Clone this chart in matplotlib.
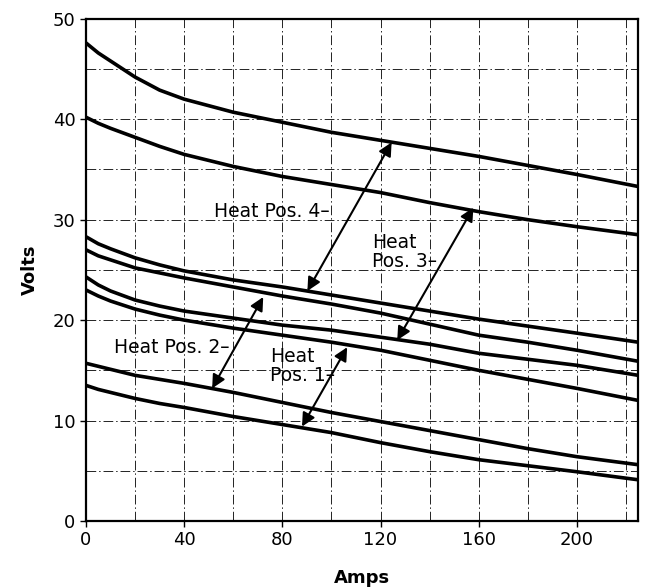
import matplotlib
matplotlib.use("Agg")
from matplotlib import pyplot as plt

amps = [0, 5, 10, 20, 30, 40, 60, 80, 100, 120, 140, 160, 180, 200, 225]

# upper pair (Heat Pos. 4)
v1 = [47.6, 46.6, 45.8, 44.2, 42.9, 42.0, 40.7, 39.7, 38.7, 37.9, 37.1, 36.3, 35.4, 34.5, 33.3]
v2 = [40.2, 39.6, 39.1, 38.2, 37.3, 36.5, 35.3, 34.3, 33.5, 32.7, 31.7, 30.8, 30.0, 29.3, 28.5]
# middle cluster (Heat Pos. 3 / 2)
v3 = [28.3, 27.6, 27.1, 26.2, 25.5, 24.9, 24.0, 23.3, 22.5, 21.7, 20.9, 20.1, 19.4, 18.7, 17.8]
v4 = [27.0, 26.4, 26.0, 25.2, 24.7, 24.2, 23.3, 22.4, 21.6, 20.7, 19.6, 18.5, 17.8, 17.0, 15.9]
v5 = [24.3, 23.5, 22.9, 22.0, 21.4, 20.9, 20.2, 19.5, 19.0, 18.3, 17.6, 16.7, 16.1, 15.5, 14.5]
v6 = [23.0, 22.4, 21.9, 21.1, 20.5, 20.0, 19.2, 18.5, 17.8, 17.0, 16.0, 15.0, 14.1, 13.2, 12.0]
# lower pair (Heat Pos. 1)
v7 = [15.7, 15.4, 15.1, 14.5, 14.1, 13.7, 12.8, 11.8, 10.8, 9.9, 9.0, 8.1, 7.2, 6.4, 5.6]
v8 = [13.5, 13.1, 12.8, 12.2, 11.7, 11.3, 10.4, 9.6, 8.8, 7.8, 6.9, 6.1, 5.5, 4.9, 4.1]

curves = [v1, v2, v3, v4, v5, v6, v7, v8]

# arrows: (x0, y0, x1, y1) in amps / volts
arrow_pos4 = (90.2, 22.9, 124.5, 37.7)
arrow_pos3 = (126.8, 18.0, 157.8, 31.2)
arrow_pos2 = (51.4, 13.2, 72.2, 22.3)
arrow_pos1 = (88.0, 9.4, 106.4, 17.3)

labels = ["Heat Pos. 4\u2013", "Heat\nPos. 3\u2013", "Heat Pos. 2\u2013", "Heat\nPos. 1\u2013"]
label_xy = [(52, 30.8), (116.5, 26.8), (11.5, 17.3), (75, 15.4)]

x_ticks = [0, 40, 80, 120, 160, 200]
y_ticks = [0, 10, 20, 30, 40, 50]

fig = plt.figure(figsize=(6.49, 5.88), dpi=100)
ax = fig.add_axes([0.1325, 0.114, 0.851, 0.854])
ax.set_xlim(0, 225)
ax.set_ylim(0, 50)

for gx in range(20, 225, 20):
    ax.axvline(gx, color="#222222", lw=0.7, ls=(0, (10, 3, 1.5, 3)), zorder=1)
for gy in range(5, 50, 5):
    ax.axhline(gy, color="#222222", lw=0.7, ls=(0, (10, 3, 1.5, 3)), zorder=1)

for v in curves:
    ax.plot(amps, v, color="black", linewidth=2.6, solid_capstyle="butt", zorder=3)

for (x0, y0, x1, y1) in [arrow_pos4, arrow_pos3, arrow_pos2, arrow_pos1]:
    ax.annotate("", xy=(x1, y1), xytext=(x0, y0),
                arrowprops=dict(arrowstyle="<|-|>", color="black", lw=1.5,
                                mutation_scale=20, shrinkA=0, shrinkB=0),
                zorder=4)

for txt, (tx, ty) in zip(labels, label_xy):
    ax.text(tx, ty, txt, fontsize=13.5, va="center", ha="left",
            linespacing=1.0, color="black", zorder=5)

ax.set_xticks(x_ticks)
ax.set_yticks(y_ticks)
ax.tick_params(labelsize=13, length=4, width=1, direction="out")
for s in ax.spines.values():
    s.set_linewidth(1.6)

ax.set_xlabel("Amps", fontsize=13, fontweight="bold", labelpad=14)
ax.set_ylabel("Volts", fontsize=13, fontweight="bold", labelpad=10)

fig.savefig("out.png", dpi=100)
